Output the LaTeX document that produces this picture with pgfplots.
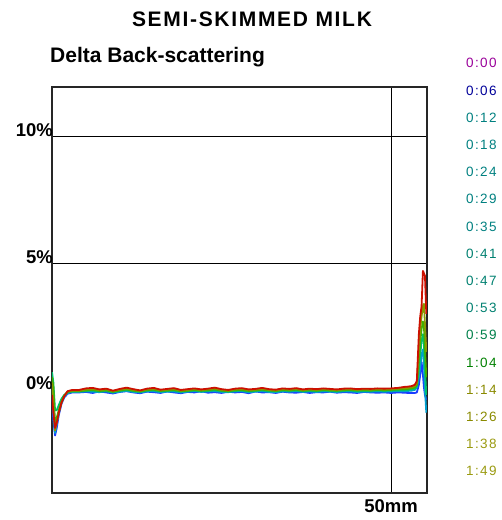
\documentclass[border=0pt]{standalone}
\usepackage{fontspec}
\setmainfont{Liberation Sans}
\usepackage{pgfplots}
\usepackage{pgfplotstable}
\pgfplotsset{compat=1.18}
\newfontfamily\titlefont[LetterSpace=8]{Liberation Sans}
\newfontfamily\legfont[LetterSpace=10]{Liberation Sans}
\definecolor{cB}{HTML}{1A3CFF}
\definecolor{cC}{HTML}{00A0D0}
\definecolor{cG2}{HTML}{00C070}
\definecolor{cG}{HTML}{40B000}
\definecolor{cO}{HTML}{889A00}
\definecolor{cR}{HTML}{CC1100}
\definecolor{lPur}{HTML}{990099}
\definecolor{lNavy}{HTML}{000099}
\definecolor{lTeal}{HTML}{008080}
\definecolor{lTeal2}{HTML}{008070}
\definecolor{lTG}{HTML}{00804A}
\definecolor{lGreen}{HTML}{008000}
\definecolor{lOl}{HTML}{8A8A00}
\definecolor{lOl2}{HTML}{9A9A10}
\pgfplotstableread{
x b c g2 g o r
0 -0.3 0.2 0.7 0.5 0.3 -0.2
0.2 -1.2 -0.8 0.3 0.1 -0.6 -0.9
0.45 -1.8 -1.7 -0.8 -1.3 -1.6 -1.5
0.7 -1.5 -1.3 -0.8 -1.1 -1.3 -1.3
1.0 -1.0 -0.9 -0.6 -0.8 -0.9 -0.9
1.4 -0.55 -0.5 -0.35 -0.45 -0.5 -0.5
1.8 -0.3 -0.25 -0.2 -0.22 -0.25 -0.25
2.3 -0.15 -0.12 -0.1 -0.08 -0.06 -0.05
3 -0.1 -0.08 -0.06 -0.05 -0.03 0.0
4 -0.10 -0.08 -0.06 -0.05 -0.03 0.00
5 -0.08 -0.06 -0.04 -0.02 0.02 0.06
6 -0.12 -0.07 -0.03 0.00 0.04 0.08
7 -0.06 -0.09 -0.06 -0.04 -0.01 0.02
8 -0.10 -0.05 -0.05 -0.02 0.02 0.05
9 -0.14 -0.11 -0.09 -0.07 -0.05 -0.03
10 -0.08 -0.07 -0.04 -0.02 0.01 0.04
11 -0.05 -0.04 -0.01 0.02 0.05 0.09
12 -0.10 -0.08 -0.05 -0.03 0.00 0.03
13 -0.13 -0.10 -0.08 -0.06 -0.04 -0.02
14 -0.07 -0.06 -0.03 -0.01 0.02 0.05
15 -0.09 -0.05 -0.02 0.01 0.04 0.08
16 -0.12 -0.09 -0.06 -0.04 -0.02 0.01
17 -0.06 -0.07 -0.04 -0.02 0.01 0.04
18 -0.10 -0.06 -0.03 0.00 0.03 0.07
19 -0.13 -0.10 -0.07 -0.05 -0.03 0.00
20 -0.08 -0.07 -0.05 -0.03 0.00 0.03
21 -0.10 -0.05 -0.03 0.00 0.03 0.06
22 -0.05 -0.08 -0.05 -0.03 -0.01 0.02
23 -0.11 -0.06 -0.04 -0.01 0.02 0.05
24 -0.09 -0.05 -0.02 0.02 0.05 0.09
25 -0.12 -0.08 -0.05 -0.03 0.00 0.03
26 -0.07 -0.09 -0.07 -0.05 -0.03 0.00
27 -0.10 -0.06 -0.04 -0.01 0.02 0.05
28 -0.08 -0.05 -0.03 0.00 0.04 0.07
29 -0.13 -0.09 -0.06 -0.04 -0.01 0.02
30 -0.06 -0.07 -0.04 -0.02 0.01 0.04
31 -0.10 -0.05 -0.02 0.01 0.04 0.08
32 -0.09 -0.08 -0.05 -0.02 0.00 0.03
33 -0.12 -0.09 -0.06 -0.04 -0.02 0.01
34 -0.07 -0.06 -0.03 0.00 0.03 0.06
35 -0.10 -0.07 -0.04 -0.02 0.01 0.04
36 -0.11 -0.05 -0.03 0.01 0.04 0.07
37 -0.08 -0.08 -0.05 -0.03 -0.01 0.02
38 -0.12 -0.06 -0.04 -0.01 0.02 0.05
39 -0.09 -0.08 -0.05 -0.03 0.00 0.03
40 -0.10 -0.06 -0.03 0.00 0.03 0.06
41 -0.07 -0.07 -0.04 -0.02 0.01 0.04
42 -0.11 -0.08 -0.06 -0.03 -0.01 0.02
43 -0.09 -0.06 -0.04 -0.01 0.02 0.05
44 -0.10 -0.06 -0.03 0.00 0.03 0.06
45 -0.12 -0.08 -0.05 -0.02 0.00 0.03
46 -0.08 -0.07 -0.04 -0.01 0.02 0.05
47 -0.10 -0.07 -0.04 -0.02 0.01 0.04
48 -0.11 -0.06 -0.03 0.00 0.03 0.06
49 -0.10 -0.07 -0.04 -0.01 0.02 0.05
50 -0.12 -0.06 -0.03 0.00 0.03 0.06
51 -0.10 -0.05 -0.02 0.02 0.05 0.08
52 -0.11 -0.05 -0.01 0.03 0.07 0.12
52.5 -0.12 -0.04 0.00 0.04 0.08 0.13
53 -0.12 -0.03 0.02 0.06 0.10 0.15
53.5 -0.12 0.00 0.05 0.10 0.15 0.20
53.8 -0.10 0.10 0.15 0.20 0.25 0.35
54.1 0.20 0.50 0.80 1.20 1.60 2.20
54.3 0.60 0.90 1.40 1.90 2.40 2.90
54.5 1.10 1.40 1.90 2.40 2.90 3.30
54.7 0.60 1.60 2.20 2.70 3.30 4.70
54.85 0.10 1.00 1.80 2.50 3.40 4.60
55.0 -0.20 0.00 0.80 1.60 2.60 4.50
55.2 -0.40 -0.90 -0.20 0.50 1.50 3.00
}\tsdata
\begin{document}
\begin{tikzpicture}
\path[use as bounding box] (-52pt,-27pt) rectangle (450pt,493pt);
\begin{axis}[
  at={(0pt,0pt)}, anchor=south west,
  scale only axis, width=375pt, height=406pt,
  xmin=0, xmax=55.3, ymin=-4.07, ymax=11.96,
  axis line style={line width=1.2pt, black!85},
  major tick length=0pt,
  ytick={5,10}, yticklabels={5\%,10\%},
  extra y ticks={0}, extra y tick labels={0\%},
  extra y tick style={grid=none},
  xtick={50}, xticklabels={50mm},
  xmajorgrids, ymajorgrids,
  grid style={black, line width=0.9pt},
  yticklabel style={font=\fontsize{18.5}{18.5}\selectfont\bfseries, anchor=base east, inner sep=0pt, xshift=1pt},
  xticklabel style={font=\fontsize{18.5}{18.5}\selectfont\bfseries, anchor=north, inner sep=0pt, yshift=-6pt},
  every axis plot/.append style={line width=1.8pt, line join=round},
]
\addplot[cB] table[x=x,y=b] {\tsdata};
\addplot[cC] table[x=x,y=c] {\tsdata};
\addplot[cG2] table[x=x,y=g2] {\tsdata};
\addplot[cG] table[x=x,y=g] {\tsdata};
\addplot[cO] table[x=x,y=o] {\tsdata};
\addplot[cR] table[x=x,y=r] {\tsdata};
\end{axis}
\node[anchor=base, inner sep=0pt, font=\titlefont\fontsize{21}{21}\selectfont\bfseries] at (200pt,466pt) {SEMI-SKIMMED MILK};
\node[anchor=base west, inner sep=0pt, font=\fontsize{21}{21}\selectfont\bfseries] at (-2pt,430pt) {Delta Back-scattering};
\foreach \lab/\col [count=\i from 0] in {0:00/lPur,0:06/lNavy,0:12/lTeal,0:18/lTeal,0:24/lTeal,0:29/lTeal,0:35/lTeal,0:41/lTeal2,0:47/lTeal2,0:53/lTeal2,0:59/lTG,1:04/lGreen,1:14/lOl,1:26/lOl,1:38/lOl2,1:49/lOl2} {
  \node[anchor=west, inner sep=0pt, text=\col, font=\legfont\fontsize{13.5}{13.5}\selectfont] at (414pt, {429.7pt-27.2pt*\i}) {\lab};
}
\end{tikzpicture}
\end{document}
